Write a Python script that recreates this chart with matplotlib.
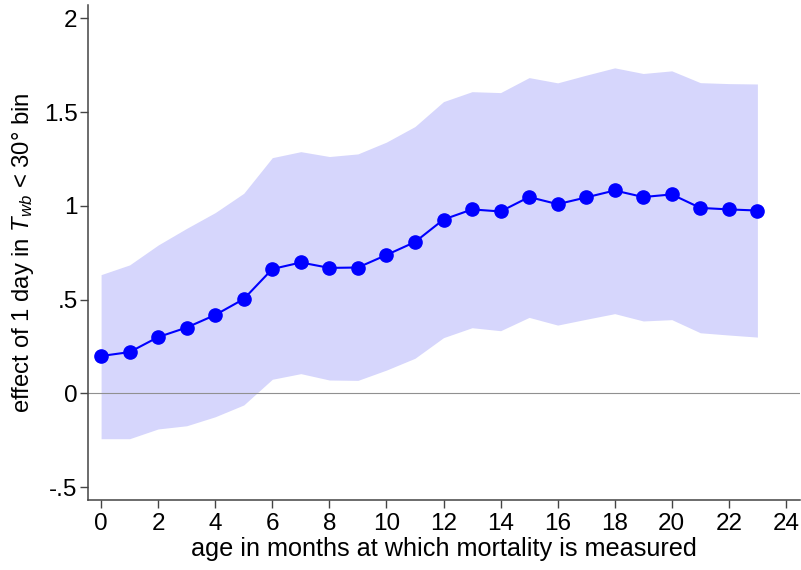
import matplotlib
matplotlib.use("Agg")
import matplotlib.pyplot as plt

plt.rcParams['font.family'] = ['Liberation Sans', 'DejaVu Sans']
plt.rcParams['mathtext.fontset'] = 'custom'
plt.rcParams['mathtext.it'] = 'Liberation Sans:italic'
plt.rcParams['mathtext.rm'] = 'Liberation Sans'

# age in months
months = list(range(0, 24))
# point estimates
effect = [0.199, 0.220, 0.300, 0.351, 0.418, 0.503, 0.663, 0.698, 0.669, 0.671,
          0.738, 0.807, 0.927, 0.981, 0.970, 1.047, 1.009, 1.045, 1.082, 1.047,
          1.061, 0.989, 0.981, 0.975]
# confidence band
upper = [0.633, 0.685, 0.791, 0.880, 0.964, 1.067, 1.257, 1.289, 1.263, 1.277,
         1.340, 1.423, 1.556, 1.609, 1.604, 1.684, 1.656, 1.697, 1.736, 1.706,
         1.720, 1.657, 1.652, 1.650]
lower = [-0.242, -0.242, -0.190, -0.173, -0.125, -0.062, 0.075, 0.105, 0.071, 0.069,
         0.124, 0.187, 0.297, 0.350, 0.334, 0.405, 0.364, 0.395, 0.425, 0.386,
         0.393, 0.323, 0.311, 0.300]

xticks = list(range(0, 25, 2))
yticks = [-0.5, 0, 0.5, 1, 1.5, 2]
ytick_labels = ['-.5', '0', '.5', '1', '1.5', '2']

fig = plt.figure(figsize=(8.01, 5.70), dpi=100)
ax = fig.add_axes([0.11, 0.1228, 0.889, 0.868])

ax.fill_between(months, lower, upper, color='#d6d6fc', linewidth=0, zorder=1)
ax.axhline(0, color='#909090', linewidth=0.8, zorder=2)
ax.plot(months, effect, color='#0000ff', linewidth=1.5, marker='o',
        markersize=9.5, zorder=3)

ax.set_xlim(-0.455, 24.5)
ax.set_ylim(-0.569, 2.07)
ax.set_xticks(xticks)
ax.set_yticks(yticks)
ax.set_yticklabels(ytick_labels)

for side in ['top', 'right']:
    ax.spines[side].set_visible(False)
for side in ['left', 'bottom']:
    ax.spines[side].set_color('#444444')
    ax.spines[side].set_linewidth(1.1)
ax.tick_params(axis='both', colors='#444444', labelcolor='black', labelsize=17.5,
               length=5.5, width=1.0, direction='out')
ax.tick_params(axis='y', pad=2)
ax.tick_params(axis='x', pad=4)

ax.set_xlabel('age in months at which mortality is measured', fontsize=18.2, labelpad=1)
ax.set_ylabel(r'effect of 1 day in $\mathit{T}_{\mathit{wb}}$ < 30° bin', fontsize=17.2, labelpad=6)

fig.savefig('out.png', dpi=100)
